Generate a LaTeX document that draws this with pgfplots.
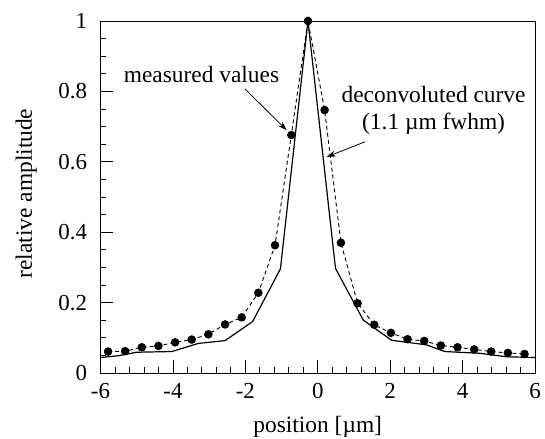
\documentclass[border=0pt]{standalone}
\usepackage{fontspec}
\setmainfont{Liberation Serif}
\usepackage{pgfplots}
\pgfplotsset{compat=1.18}
\usetikzlibrary{arrows.meta}

\begin{document}
\begin{tikzpicture}[font=\fontsize{23.5}{27}\selectfont]
\useasboundingbox (-100.5bp,-66bp) rectangle (444.5bp,373bp);
\begin{axis}[
    at={(0,0)}, anchor=south west,
    scale only axis,
    width=434.5bp, height=352bp,
    xmin=-6, xmax=6, ymin=0, ymax=1,
    xtick={-6,-4,...,6},
    ytick={0,0.2,...,1},
    minor x tick num=4,
    minor y tick num=3,
    tick align=inside,
    tick pos=left,
    major tick length=12.5bp,
    minor tick length=6bp,
    axis line style={line width=0.9bp},
    every tick/.style={black, line width=0.8bp},
    /pgf/number format/assume math mode=true,
    ticklabel style={font=\fontsize{23}{27}\selectfont},
    yticklabel style={xshift=-10bp},
    xticklabel style={yshift=-7bp},
    xlabel={position [µm]},
    ylabel={relative amplitude},
    xlabel style={at={(axis description cs:0.5,-0.170)}, anchor=base},
    ylabel style={at={(axis description cs:-0.158,0.51)}, anchor=base},
    clip=false,
]
% deconvoluted curve
\addplot[black, line width=1.2bp, mark=none] coordinates {
    (-6.00,0.044) (-5.51,0.049) (-5.00,0.059) (-4.03,0.061) (-3.30,0.084)
    (-2.56,0.092) (-1.80,0.146) (-1.03,0.296) (-0.27,1.000) (0.49,0.297)
    (1.26,0.150) (2.04,0.093) (3.00,0.080) (3.51,0.061) (4.48,0.056)
    (5.22,0.046) (6.00,0.044)
};
% measured values
\addplot[black, line width=0.9bp, dash pattern=on 4bp off 3bp,
         mark=*, mark size=3.8bp, mark options={solid}] coordinates {
    (-5.79,0.061) (-5.32,0.062) (-4.86,0.073) (-4.40,0.077) (-3.94,0.087)
    (-3.48,0.095) (-3.02,0.110) (-2.56,0.138) (-2.10,0.158) (-1.64,0.228)
    (-1.18,0.363) (-0.73,0.676) (-0.27,1.000) (0.19,0.747) (0.64,0.370)
    (1.10,0.198) (1.56,0.137) (2.02,0.114) (2.48,0.096) (2.94,0.091)
    (3.40,0.078) (3.86,0.073) (4.32,0.067) (4.79,0.061) (5.25,0.057)
    (5.71,0.054)
};
\node at (axis cs:-3.21,0.847) {measured values};
\draw[-{Stealth[length=9bp,width=6bp]}, line width=0.8bp]
    (axis cs:-2.01,0.807) -- (axis cs:-0.86,0.690);
\node[align=center] at (axis cs:3.2,0.747) {deconvoluted curve\\(1.1 µm fwhm)};
\draw[-{Stealth[length=9bp,width=6bp]}, line width=0.8bp]
    (axis cs:1.31,0.657) -- (axis cs:0.25,0.614);
\end{axis}
\end{tikzpicture}
\end{document}
